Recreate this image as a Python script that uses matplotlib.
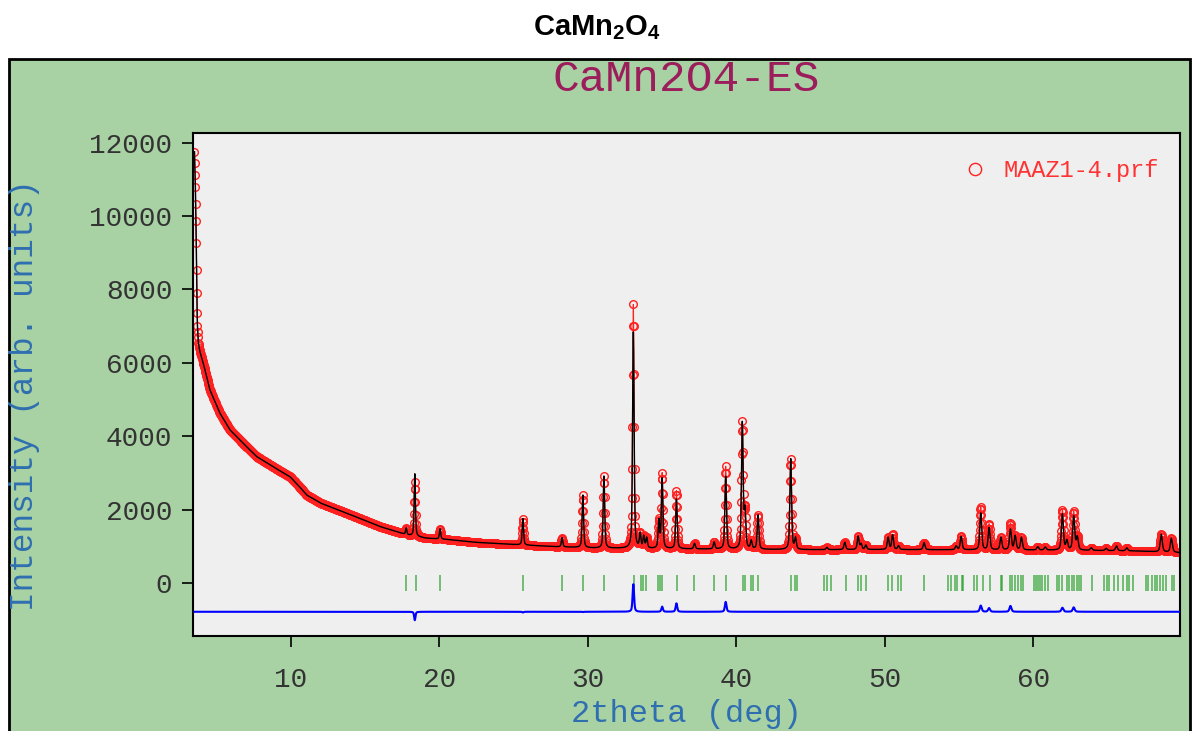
import numpy as np
import matplotlib
matplotlib.use("Agg")
import matplotlib.pyplot as plt
from matplotlib.patches import Rectangle

# background (2theta, counts)
bg_tth = [3.50, 3.56, 3.61, 3.65, 3.69, 3.76, 3.85, 4.10, 4.54, 5.20, 5.89, 6.80,
          7.69, 9.00, 9.93, 10.50, 11.06, 12.00, 13.75, 16.00, 17.80, 19.10, 20.50,
          22.50, 25.40, 28.00, 30.60, 37.00, 44.30, 50.00, 57.00, 63.00, 67.00, 69.90]
bg_int = [11750, 10800, 9620, 8170, 7080, 6550, 6330, 5980, 5264, 4640, 4175, 3800,
          3448, 3120, 2900, 2660, 2400, 2180, 1906, 1541, 1315, 1225, 1190,
          1110, 1043, 990, 953, 930, 910, 915, 905, 895, 875, 830]

# reflections: position, calculated height and observed height above background
pk_pos = [17.76, 18.34, 20.04, 25.62, 28.26, 29.66, 31.08, 33.06, 33.52, 33.76, 33.96,
          34.78, 35.00, 35.96, 37.18, 38.50, 39.28, 40.40, 40.58, 41.00, 41.46, 43.66,
          43.98, 46.10, 47.30, 48.20, 48.40, 48.72, 50.22, 50.52, 50.92, 52.64, 54.80,
          55.14, 56.46, 57.02, 57.82, 58.46, 58.78, 59.20, 60.30, 60.80, 61.96, 62.26,
          62.72, 62.96, 63.90, 64.90, 65.60, 66.30, 68.62, 69.30]
pk_calc = [180, 1700, 280, 720, 250, 1430, 1960, 5890, 380, 320, 280,
           750, 1900, 1350, 150, 190, 1980, 3420, 1000, 220, 930, 2470,
           300, 60, 200, 360, 150, 120, 330, 400, 100, 190, 100,
           360, 1000, 600, 340, 560, 380, 340, 90, 80, 980, 250,
           920, 350, 70, 60, 130, 80, 480, 380]
pk_obs = [180, 1470, 280, 700, 250, 1420, 1960, 6640, 380, 320, 280,
          750, 2040, 1580, 150, 190, 2250, 3420, 1000, 220, 930, 2470,
          300, 60, 200, 360, 150, 120, 330, 400, 100, 190, 100,
          360, 1170, 700, 340, 720, 380, 340, 90, 80, 1090, 250,
          1040, 350, 70, 60, 130, 80, 480, 380]

# Bragg reflection marks
bragg = [17.75, 18.40, 20.04, 25.65, 28.28, 29.70, 31.10, 33.10, 33.55, 33.73, 33.91,
         34.74, 34.86, 35.01, 35.98, 37.17, 38.51, 39.30, 40.42, 40.58, 40.97, 41.10,
         41.48, 43.68, 43.95, 44.10, 45.90, 46.08, 46.37, 47.36, 48.21, 48.37, 48.73,
         50.23, 50.50, 50.90, 51.06, 52.64, 54.27, 54.44, 54.73, 54.88, 55.18, 55.28,
         56.01, 56.19, 56.59, 57.08, 57.80, 57.91, 58.43, 58.59, 58.77, 58.99, 59.17,
         59.33, 60.05, 60.16, 60.30, 60.45, 60.61, 60.79, 60.97, 61.58, 61.73, 61.91,
         62.25, 62.40, 62.59, 62.74, 62.92, 63.08, 63.19, 63.93, 64.76, 64.94, 65.10,
         65.44, 65.68, 66.06, 66.29, 66.45, 66.74, 67.57, 67.75, 68.02, 68.20, 68.35,
         68.53, 68.76, 68.92, 69.32, 69.48]

diff_offset = -780


def pseudo_voigt(x, pos, h, fwhm, eta=0.5):
    u = (x - pos) / fwhm
    return h * (eta / (1 + 4 * u ** 2) + (1 - eta) * np.exp(-4 * np.log(2) * u ** 2))


tth = np.arange(3.50, 69.90 + 1e-9, 0.02)
bg = np.interp(tth, bg_tth, bg_int)
y_calc = bg.copy()
y_obs = bg.copy()
for p, hc, ho in zip(pk_pos, pk_calc, pk_obs):
    w = 0.08 + 0.0012 * p
    y_calc += pseudo_voigt(tth, p, hc, w)
    y_obs += pseudo_voigt(tth, p, ho, w)
y_diff = y_obs - y_calc + diff_offset

plt.rcParams["mathtext.fontset"] = "custom"
plt.rcParams["mathtext.bf"] = "Liberation Sans:bold"
plt.rcParams["mathtext.rm"] = "Liberation Sans"

mono = "Liberation Mono"
fig = plt.figure(figsize=(11.93, 7.31), dpi=100)
fig.patch.set_facecolor("white")

# green panel behind the plot
fig.patches.append(Rectangle((9 / 1193, -0.05), 1181 / 1193, 1 - 59 / 731 + 0.05,
                             transform=fig.transFigure, facecolor="#a8d2a4",
                             edgecolor="black", linewidth=2, zorder=-1))

fig.text(0.5, 1 - 28 / 731, r"$\mathbf{CaMn_2O_4}$", ha="center", va="center",
         fontsize=21)

ax = fig.add_axes([193.3 / 1193, 1 - 636 / 731, 986.7 / 1193, 503.3 / 731])
ax.set_facecolor("#efefef")

ax.plot(tth, y_obs, color="#ff2020", lw=0.8, zorder=2)
ax.plot(tth, y_obs, "o", mfc="none", mec="#ff2020", ms=5.5, mew=1.0,
        label="MAAZ1-4.prf", zorder=2)
ax.plot(tth, y_calc, color="black", lw=1.0, zorder=3)
ax.vlines(bragg, -210, 210, color="#1f9a1f", alpha=0.65, lw=1.3, zorder=3)
ax.plot(tth, y_diff, color="#0000ff", lw=1.5, zorder=3)

ax.set_xlim(3.42, 69.88)
ax.set_ylim(-1440, 12270)
ax.set_xticks([10, 20, 30, 40, 50, 60])
ax.set_yticks(np.arange(0, 12001, 2000))

for s in ax.spines.values():
    s.set_linewidth(1.5)
ax.tick_params(direction="out", length=8, width=1.2, colors="black",
               labelcolor="#333333", labelsize=20)
ax.tick_params(axis="y", pad=7)
ax.tick_params(axis="x", pad=14)
for lab in ax.get_xticklabels() + ax.get_yticklabels():
    lab.set_family(mono)

ax.set_title("CaMn2O4-ES", family=mono, fontsize=32, color="#9c1d5b", pad=30)

ax.set_xlabel("2theta (deg)", family=mono, fontsize=23, color="#2f6fb0")
ax.xaxis.set_label_coords(0.5, -0.155)
ax.xaxis.label.set_va("center")
ax.set_ylabel("Intensity (arb. units)", family=mono, fontsize=23.5, color="#2f6fb0")
ax.yaxis.set_label_coords(-0.1706, 0.479)
ax.yaxis.label.set_va("center")

leg = ax.legend(loc="upper right", bbox_to_anchor=(1.0, 0.99), frameon=False,
                handlelength=0.8, handletextpad=0.8, markerscale=1.6,
                borderaxespad=0.5, prop={"family": mono, "size": 17})
for t in leg.get_texts():
    t.set_color("#ff3333")

fig.savefig("out.png", dpi=100)
